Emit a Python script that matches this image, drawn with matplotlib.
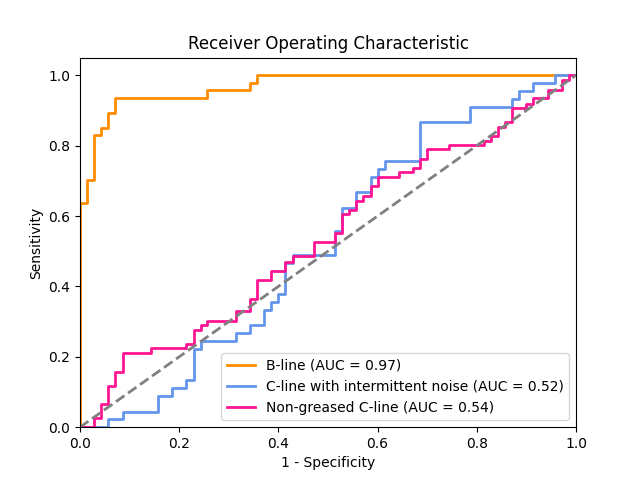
import matplotlib
matplotlib.use("Agg")
import matplotlib.pyplot as plt

# step points: (fpr where the curve jumps, new tpr)
bline_fpr = [0.0, 0.0, 0.014, 0.029, 0.043, 0.057, 0.071, 0.257, 0.343, 0.357, 1.0]
bline_tpr = [0.0, 0.638, 0.702, 0.830, 0.851, 0.894, 0.936, 0.957, 0.979, 1.0, 1.0]

cline_fpr = [0.0, 0.057, 0.086, 0.157, 0.186, 0.214, 0.229, 0.243, 0.314, 0.343,
             0.371, 0.386, 0.400, 0.414, 0.429, 0.514, 0.529, 0.557, 0.586, 0.600,
             0.614, 0.686, 0.786, 0.871, 0.886, 0.914, 0.957, 1.0]
cline_tpr = [0.0, 0.022, 0.044, 0.089, 0.111, 0.133, 0.222, 0.244, 0.267, 0.289,
             0.333, 0.356, 0.378, 0.467, 0.489, 0.556, 0.622, 0.667, 0.711, 0.733,
             0.756, 0.867, 0.911, 0.933, 0.956, 0.978, 1.0, 1.0]

ng_fpr = [0.0, 0.029, 0.043, 0.057, 0.071, 0.086, 0.143, 0.214, 0.229, 0.243,
          0.257, 0.314, 0.343, 0.357, 0.386, 0.414, 0.429, 0.471, 0.514, 0.529,
          0.543, 0.557, 0.571, 0.586, 0.600, 0.643, 0.671, 0.686, 0.700, 0.743,
          0.814, 0.829, 0.843, 0.857, 0.871, 0.900, 0.914, 0.943, 0.971, 0.986, 1.0]
ng_tpr = [0.0, 0.025, 0.065, 0.117, 0.157, 0.211, 0.224, 0.236, 0.277, 0.289,
          0.301, 0.329, 0.365, 0.418, 0.444, 0.470, 0.487, 0.525, 0.553, 0.606,
          0.618, 0.644, 0.656, 0.685, 0.711, 0.724, 0.736, 0.761, 0.789, 0.801,
          0.812, 0.828, 0.853, 0.866, 0.906, 0.919, 0.934, 0.958, 0.986, 1.0, 1.0]

labels = ['B-line (AUC = 0.97)',
          'C-line with intermittent noise (AUC = 0.52)',
          'Non-greased C-line (AUC = 0.54)']

fig, ax = plt.subplots(figsize=(6.4, 4.8), dpi=100)
ax.step(bline_fpr, bline_tpr, where='post', color='darkorange', lw=2, label=labels[0])
ax.step(cline_fpr, cline_tpr, where='post', color='cornflowerblue', lw=2, label=labels[1])
ax.step(ng_fpr, ng_tpr, where='post', color='deeppink', lw=2, label=labels[2])
ax.plot([0, 1], [0, 1], color='gray', lw=2, linestyle='--')

ax.set_xlim([0.0, 1.0])
ax.set_ylim([0.0, 1.05])
ax.set_xlabel('1 - Specificity')
ax.set_ylabel('Sensitivity')
ax.set_title('Receiver Operating Characteristic')
ax.legend(loc='lower right')

fig.savefig('out.png')
